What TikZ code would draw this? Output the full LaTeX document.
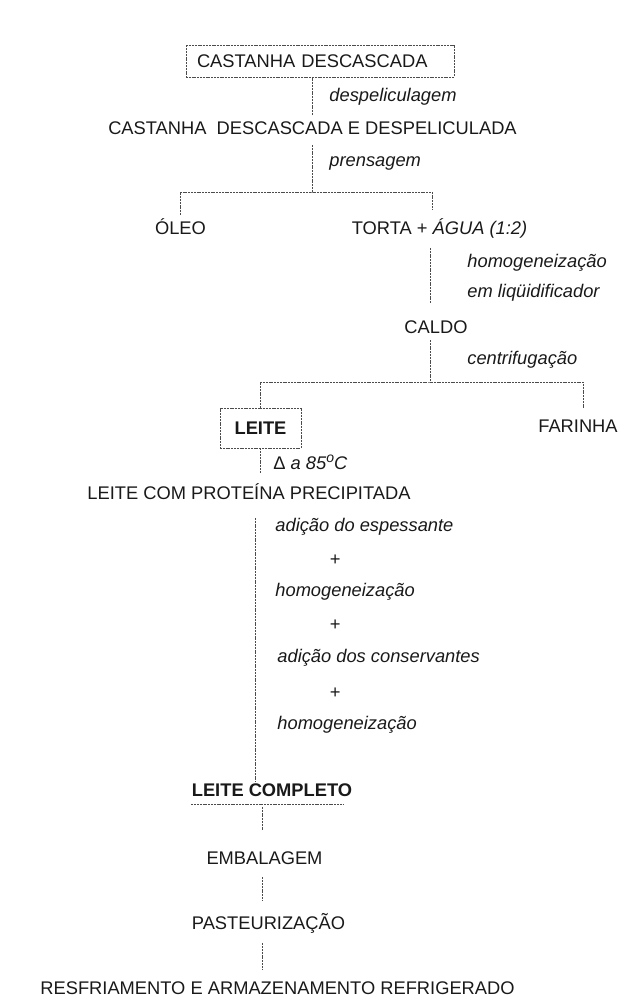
\documentclass[tikz,border=0pt]{standalone}
\usepackage{fontspec}
\setmainfont{Liberation Sans}
\usepackage{tikz}
\usetikzlibrary{calc}
\newcommand{\fluxofonte}{\fontsize{9.15pt}{11pt}\selectfont}

\begin{document}
\begin{tikzpicture}[
      x=0.5pt, y=-0.5pt,
      etapa/.style={font=\fluxofonte, text=black!90, inner sep=3pt, text height=6.55pt, text depth=0pt},
      caixa/.style={etapa, draw=black!70, line width=0.45pt, dash pattern=on 1pt off 0.4pt},
      oper/.style={font=\fluxofonte\itshape, text=black!90, inner sep=0pt, anchor=west},
      fluxo/.style={draw=black!70, line width=0.45pt, dash pattern=on 1pt off 0.4pt}
    ]
    \useasboundingbox (0,0) rectangle (641,1001);

    \node[caixa, align=left, text width=123pt, inner xsep=5.5pt, minimum height=16pt] (descascada) at (320,61) {CASTANHA DESCASCADA};
    \node[etapa] (despeliculada) at (312.5,128) {CASTANHA\ \ DESCASCADA E DESPELICULADA};
    \node[etapa] (oleo) at (180.5,228) {ÓLEO};
    \node[etapa] (torta) at (439.5,228) {TORTA + \textit{ÁGUA (1:2)}};
    \node[etapa] (caldo) at (436,327) {CALDO};
    \node[caixa, minimum width=40.5pt, minimum height=20pt] (leite) at (260.5,428) {\textbf{LEITE}};
    \node[etapa] (farinha) at (578,426) {FARINHA};
    \node[etapa] (precipitada) at (249,493) {LEITE COM PROTEÍNA PRECIPITADA};
    \node[etapa] (completo) at (272,790) {\textbf{LEITE COMPLETO}};
    \node[etapa] (embalagem) at (264.5,858) {EMBALAGEM};
    \node[etapa] (pasteurizacao) at (268.5,923) {PASTEURIZAÇÃO};
    \node[etapa] (resfriamento) at (277.5,988) {RESFRIAMENTO E ARMAZENAMENTO REFRIGERADO};

    \node[oper] (op1) at (329,97) {despeliculagem};
    \node[oper] (op2) at (329,163) {prensagem};
    \node[oper] (op3) at (467,263) {homogeneização};
    \node[oper] (op4) at (467,293) {em liqüidificador};
    \node[oper] (op5) at (467,360) {centrifugação};
    \node[oper] (op6) at (273,462) {{\upshape Δ} a 85{\scriptsize\raisebox{0.9ex}{o}}C};
    \node[oper] (op7) at (275,527) {adição do espessante};
    \node[oper, anchor=center] (mais1) at (335,560) {+};
    \node[oper] (op8) at (275,592) {homogeneização};
    \node[oper, anchor=center] (mais2) at (335,625) {+};
    \node[oper] (op9) at (277,658) {adição dos conservantes};
    \node[oper, anchor=center] (mais3) at (335,693) {+};
    \node[oper] (op10) at (277,725) {homogeneização};

    \coordinate (bif1) at (312.5,192);
    \coordinate (bif2) at (430,382);
    \coordinate (eixo) at (255,0);
    \coordinate (eixo2) at (262,0);

    \draw[fluxo] (despeliculada.north) -- (despeliculada.north |- descascada.south);
    \draw[fluxo, shorten <=2pt] (despeliculada.south) -- (bif1);
    \draw[fluxo] (oleo.north) |- (bif1) -| ($(torta.north)+(-7.5,-5.5)$);
    \draw[fluxo, shorten <=3.5pt, shorten >=5.5pt] ($(torta.south)+(-9.5,0)$) -- ($(caldo.north)+(-6,0)$);
    \draw[fluxo] ($(caldo.south)+(-6,0)$) -- (bif2);
    \draw[fluxo] (leite.north) |- (bif2) -| ($(farinha.north)+(5,-5)$);
    \draw[fluxo, shorten >=3.5pt] (leite.south) -- (leite.south |- precipitada.north);
    \draw[fluxo, shorten <=6pt, shorten >=-2.5pt] (eixo |- precipitada.south) -- (eixo |- completo.north);
    \draw[fluxo] ([xshift=3pt, yshift=-0.75pt]completo.south west) -- ([xshift=-7.5pt, yshift=-0.75pt]completo.south east);
    \draw[fluxo, shorten <=2pt, shorten >=7.75pt] (eixo2 |- completo.south) -- (eixo2 |- embalagem.north);
    \draw[fluxo, shorten <=3.25pt, shorten >=4.75pt] (eixo2 |- embalagem.south) -- (eixo2 |- pasteurizacao.north);
    \draw[fluxo, shorten <=3.75pt, shorten >=2.75pt] (eixo2 |- pasteurizacao.south) -- (eixo2 |- resfriamento.north);
  \end{tikzpicture}
\end{document}
